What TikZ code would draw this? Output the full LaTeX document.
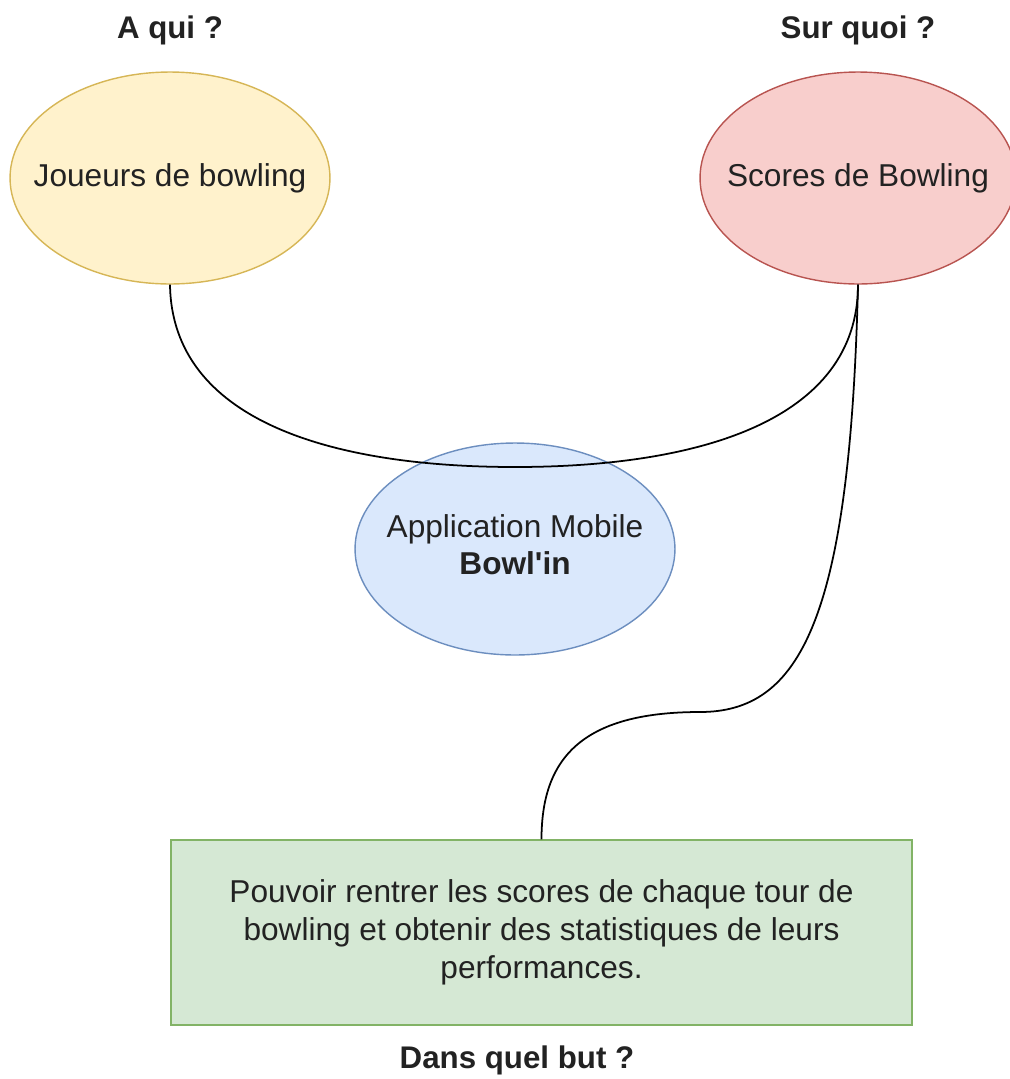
\documentclass[tikz,border=0pt]{standalone}
\usepackage{fontspec}
\setmainfont{Liberation Sans}
\usetikzlibrary{shapes.geometric}
\definecolor{jauneF}{HTML}{FFF2CC}\definecolor{jauneD}{HTML}{D6B656}
\definecolor{rougeF}{HTML}{F8CECC}\definecolor{rougeD}{HTML}{B85450}
\definecolor{bleuF}{HTML}{DAE8FC}\definecolor{bleuD}{HTML}{6C8EBF}
\definecolor{vertF}{HTML}{D5E8D4}\definecolor{vertD}{HTML}{82B366}
\definecolor{texte}{HTML}{222222}
\begin{document}
\begin{tikzpicture}[x=0.02cm,y=-0.02cm,
    every node/.style={font=\fontsize{18}{21.5}\selectfont, text=texte},
    bulle/.style={ellipse, draw, line width=0.8pt, minimum width=6.4cm, minimum height=4.24cm, inner sep=0pt},
    titre/.style={font=\fontsize{17.8}{21.5}\selectfont\bfseries},
    lien/.style={line width=1pt}]
            \useasboundingbox (0,0) rectangle (1009,1079);
            \node[bulle, fill=jauneF, draw=jauneD, label=center:{Joueurs de bowling}] (joueurs) at (170,178) {};
            \node[bulle, fill=rougeF, draw=rougeD, minimum width=6.32cm, label=center:{Scores de Bowling}] (scores) at (858,178) {};
            \node[bulle, fill=bleuF, draw=bleuD, label={[align=center, yshift=2.5pt]center:{Application Mobile\\\textbf{Bowl\textquotesingle in}}}] (appli) at (515,549) {};
            \node[draw=vertD, fill=vertF, line width=0.8pt, minimum width=14.82cm, minimum height=3.7cm, align=center] (but) at (541.5,932.5) {Pouvoir rentrer les scores de chaque tour de\\bowling et obtenir des statistiques de leurs\\performances.};
            \node[titre] (aqui) at (170,30) {A qui ?};
            \node[titre] (surquoi) at (858,30) {Sur quoi ?};
            \node[titre] (dansquel) at (517,1060) {Dans quel but ?};
            \coordinate (bas) at (515,467);
            \coordinate (pli) at (700,712);
            \draw [lien] (joueurs.south) .. controls (172,420) and (330,467) .. (bas) .. controls (700,467) and (858,420) .. (scores.south);
            \draw [lien] (scores.south) .. controls (850,620) and (800,712) .. (pli) .. controls (580,712) and (541.5,760) .. (but.north);
        \end{tikzpicture}
\end{document}
